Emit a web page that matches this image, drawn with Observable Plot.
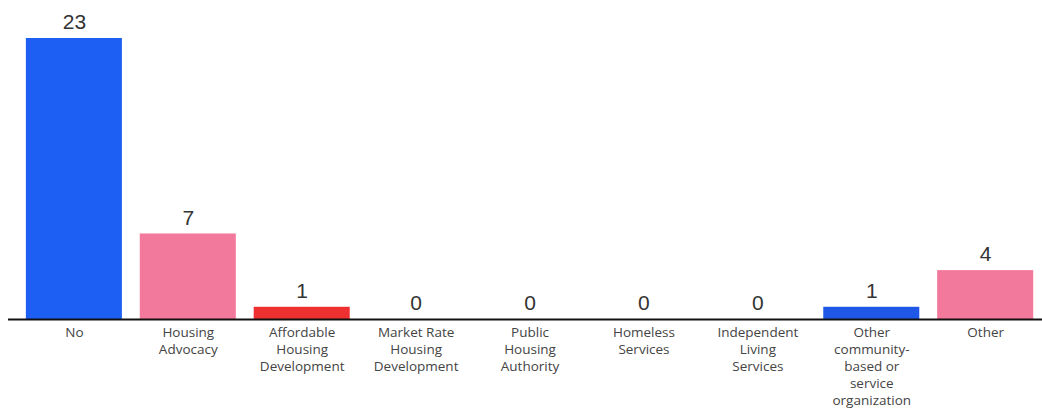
<!DOCTYPE html>
<html>
<head>
<meta charset="utf-8">
<script src="https://cdn.jsdelivr.net/npm/d3@7"></script>
<script src="https://cdn.jsdelivr.net/npm/@observablehq/plot@0.6"></script>
<style>
  html, body { margin: 0; padding: 0; background: #fff; }
  #chart svg { display: block; }
</style>
</head>
<body>
<div id="chart"></div>
<script>
const categories = [
  "No",
  "Housing Advocacy",
  "Affordable Housing Development",
  "Market Rate Housing Development",
  "Public Housing Authority",
  "Homeless Services",
  "Independent Living Services",
  "Other community-based or service organization",
  "Other"
];
const tickLabels = [
  "No",
  "Housing\nAdvocacy",
  "Affordable\nHousing\nDevelopment",
  "Market Rate\nHousing\nDevelopment",
  "Public\nHousing\nAuthority",
  "Homeless\nServices",
  "Independent\nLiving\nServices",
  "Other\ncommunity-\nbased or\nservice\norganization",
  "Other"
];
const counts = [23, 7, 1, 0, 0, 0, 0, 1, 4];
const barColors = ["#1d5ff2", "#f2799b", "#ee3030", "#1d5ff2", "#f2799b", "#ee3030", "#1d5ff2", "#1f58e6", "#f2799b"];

const data = categories.map((c, i) => ({category: c, count: counts[i], color: barColors[i]}));
const labelOf = new Map(categories.map((c, i) => [c, tickLabels[i]]));

const chart = Plot.plot({
  width: 1042,
  height: 410,
  marginTop: 38,
  marginBottom: 91,
  marginLeft: 8,
  marginRight: 0,
  style: {background: "#fff"},
  x: {domain: categories, paddingInner: 0.157, paddingOuter: 0.117, align: 0.67, round: false, label: null},
  y: {domain: [0, 23], axis: null},
  marks: [
    Plot.barY(data, {x: "category", y: "count", fill: "color"}),
    Plot.text(data, {x: "category", y: "count", text: d => String(d.count), dy: -16, fontSize: 21, fill: "#333", fontFamily: "Liberation Sans, Arial, sans-serif"}),
    Plot.ruleY([0], {stroke: "#111", strokeWidth: 2}),
    Plot.axisX({
      tickSize: 0,
      tickPadding: 6,
      tickFormat: d => labelOf.get(d),
      fontSize: 13.5,
      lineHeight: 1.25,
      fill: "#444",
      fontFamily: "Open Sans, sans-serif",
      label: null
    })
  ]
});
document.getElementById("chart").appendChild(chart);
</script>
</body>
</html>
